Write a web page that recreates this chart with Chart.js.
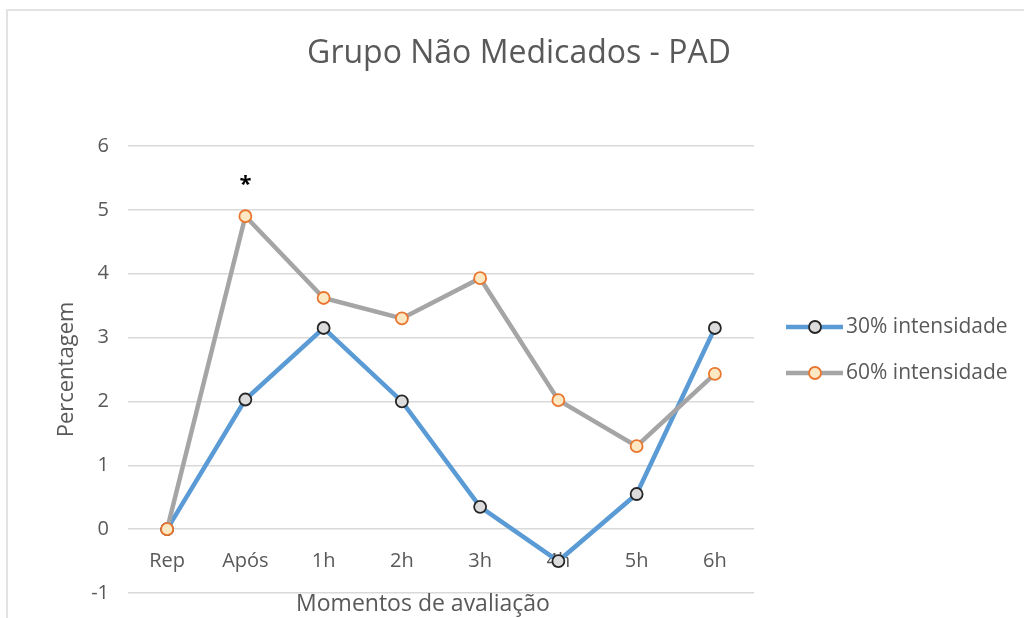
<!DOCTYPE html>
<html>
<head>
<meta charset="utf-8">
<script src="https://cdn.jsdelivr.net/npm/chart.js@4.4.1/dist/chart.umd.min.js"></script>
<style>
html,body{margin:0;padding:0;background:#fff;}
#wrap{width:1024px;height:618px;position:relative;}
</style>
</head>
<body>
<div id="wrap"><canvas id="c" width="1024" height="618"></canvas></div>
<script>
const chartTitle = 'Grupo Não Medicados - PAD';
const xTitle = 'Momentos de avaliação';
const yTitle = 'Percentagem';
const categories = ['Rep', 'Após', '1h', '2h', '3h', '4h', '5h', '6h'];
const series30Name = '30% intensidade';
const series60Name = '60% intensidade';
const series30 = [0, 2.03, 3.15, 2.0, 0.35, -0.5, 0.55, 3.15];
const series60 = [0, 4.9, 3.62, 3.3, 3.93, 2.02, 1.3, 2.43];
const significance = ['', '*', '', '', '', '', '', ''];
const yTicks = [-1, 0, 1, 2, 3, 4, 5, 6];

const TEXT = '#595959';
const FONT = '"Open Sans", "DejaVu Sans", sans-serif';

const frameAndText = {
  id: 'frameAndText',
  beforeDraw(chart) {
    const ctx = chart.ctx;
    ctx.save();
    ctx.fillStyle = '#fff';
    ctx.fillRect(0, 0, chart.width, chart.height);
    ctx.strokeStyle = '#e3e3e3';
    ctx.lineWidth = 2;
    ctx.strokeRect(7, 10, chart.width + 10, chart.height + 10);
    ctx.restore();
  },
  afterDraw(chart) {
    const ctx = chart.ctx;
    const xs = chart.scales.x, ys = chart.scales.y;
    ctx.save();
    // title
    ctx.fillStyle = TEXT;
    ctx.font = '32px ' + FONT;
    ctx.textAlign = 'center';
    ctx.textBaseline = 'middle';
    ctx.fillText(chartTitle, 519, 54);
    // x axis title
    ctx.font = '23px ' + FONT;
    ctx.fillText(xTitle, 423, 604);
    // significance marks
    ctx.fillStyle = '#000';
    ctx.font = 'bold 22px ' + FONT;
    significance.forEach((s, i) => {
      if (!s) return;
      const top = Math.max(series30[i], series60[i]) + 0.55;
      ctx.fillText(s, xs.getPixelForValue(i), ys.getPixelForValue(top) + 4);
    });
    // legend
    const items = [0, 1].map(i => chart.data.datasets.find(d => d.legendIndex === i));
    items.forEach((ds, i) => {
      const y = 327 + i * 46;
      ctx.strokeStyle = ds.borderColor;
      ctx.lineWidth = ds.borderWidth;
      ctx.lineCap = 'butt';
      ctx.beginPath();
      ctx.moveTo(786, y);
      ctx.lineTo(843, y);
      ctx.stroke();
      ctx.beginPath();
      ctx.arc(815, y, ds.pointRadius, 0, Math.PI * 2);
      ctx.fillStyle = ds.pointBackgroundColor;
      ctx.fill();
      ctx.lineWidth = ds.pointBorderWidth;
      ctx.strokeStyle = ds.pointBorderColor;
      ctx.stroke();
      ctx.fillStyle = TEXT;
      ctx.font = '21px ' + FONT;
      ctx.textAlign = 'left';
      ctx.textBaseline = 'middle';
      ctx.fillText(ds.label, 846, y);
    });
    ctx.restore();
  }
};

new Chart(document.getElementById('c'), {
  type: 'line',
  data: {
    labels: categories,
    datasets: [
      {
        label: series60Name,
        legendIndex: 1,
        data: series60,
        borderColor: '#a5a5a5',
        borderWidth: 4.5,
        pointRadius: 6,
        pointHoverRadius: 6,
        pointBorderWidth: 1.8,
        pointBackgroundColor: '#fde8c4',
        pointBorderColor: '#e8762f',
        tension: 0,
        order: 0
      },
      {
        label: series30Name,
        legendIndex: 0,
        data: series30,
        borderColor: '#5b9bd5',
        borderWidth: 4.5,
        pointRadius: 6,
        pointHoverRadius: 6,
        pointBorderWidth: 1.8,
        pointBackgroundColor: '#dcdcdc',
        pointBorderColor: '#262626',
        tension: 0,
        order: 1
      }
    ]
  },
  options: {
    responsive: false,
    animation: false,
    events: [],
    layout: { padding: { left: 54, right: 270, top: 146, bottom: 25 } },
    plugins: {
      legend: { display: false },
      title: { display: false },
      tooltip: { enabled: false }
    },
    scales: {
      x: {
        position: { y: 0 },
        offset: true,
        afterFit: s => { s.height = 0; s.paddingLeft = 0; s.paddingRight = 0; s.paddingTop = 0; s.paddingBottom = 0; },
        grid: { display: false, drawTicks: false },
        border: { display: false },
        ticks: { color: TEXT, font: { family: FONT, size: 20 }, padding: 20 }
      },
      y: {
        min: -1,
        max: 6,
        afterBuildTicks: s => { s.ticks = yTicks.map(v => ({ value: v })); },
        afterFit: s => { s.width = 74; s.paddingTop = 0; s.paddingBottom = 0; },
        grid: { color: '#d9d9d9', lineWidth: 1.5, drawTicks: false },
        border: { display: false },
        ticks: { color: TEXT, font: { family: FONT, size: 20 }, padding: 19 },
        title: { display: true, text: yTitle, color: TEXT, font: { family: FONT, size: 22 }, padding: 0 }
      }
    }
  },
  plugins: [frameAndText]
});
</script>
</body>
</html>
